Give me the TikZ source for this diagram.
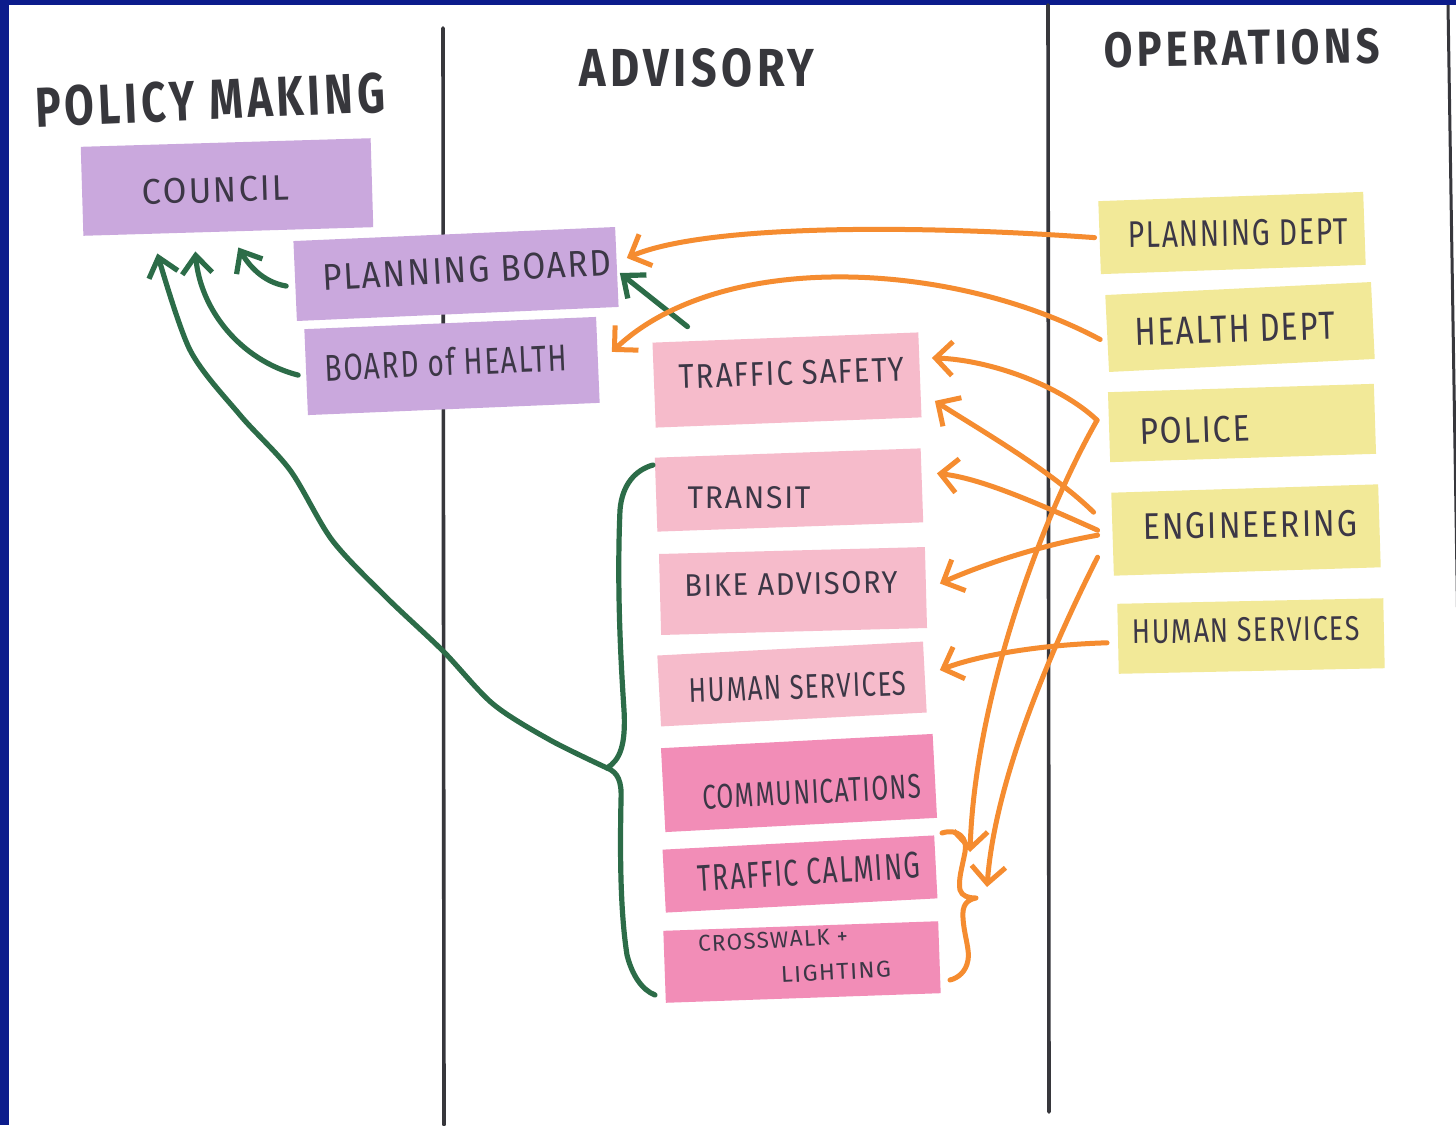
\documentclass[tikz,border=0pt]{standalone}
\usepackage{fontspec}
\usepackage{graphicx}
\usetikzlibrary{arrows.meta}
\newfontfamily\notefont{Fira Sans}[LetterSpace=6]
\newfontfamily\headfont{Fira Sans}[LetterSpace=10]
% hand-lettered labels, scaled to a given width and cap height
\newcommand\notelabel[3]{\resizebox{#1pt}{#2pt}{\notefont #3}}
\newcommand\headlabel[3]{\resizebox{#1pt}{#2pt}{\headfont\bfseries #3}}
\definecolor{frameblue}{RGB}{12,28,140}
\definecolor{lilac}{RGB}{202,168,221}
\definecolor{blush}{RGB}{246,187,203}
\definecolor{rose}{RGB}{242,141,183}
\definecolor{butter}{RGB}{242,233,152}
\definecolor{marker}{RGB}{245,140,48}
\definecolor{ivy}{RGB}{44,108,72}
\definecolor{ink}{RGB}{55,55,60}
\definecolor{pencil}{RGB}{60,55,70}
\begin{document}
\begin{tikzpicture}[x=1pt,y=-1pt,
  sticky/.style={inner sep=0pt,outer sep=0pt,draw=none},
  txt/.style={inner sep=0pt,outer sep=0pt,text=pencil},
  headtxt/.style={inner sep=0pt,outer sep=0pt,text=ink},
  divider/.style={draw=ink,line width=3.6pt,line cap=round},
  orangearrow/.style={draw=marker,line width=5pt,line cap=round,line join=round,
    -{Straight Barb[length=17pt,width=34pt]}},
  orangeline/.style={draw=marker,line width=5pt,line cap=round,line join=round},
  greenarrow/.style={draw=ivy,line width=5.2pt,line cap=round,line join=round,
    -{Straight Barb[length=18pt,width=30pt]}},
  greenline/.style={draw=ivy,line width=5.2pt,line cap=round,line join=round}]

\useasboundingbox (0,0) rectangle (1456,1125);
% paper and frame
\fill[white] (0,0) rectangle (1456,1125);
\fill[frameblue] (0,0) rectangle (1456,5);
\fill[frameblue] (0,0) rectangle (9,1125);
\draw[draw=ink,line width=3pt] (1448,5) -- (1458,640);

% column dividers
\draw[divider] (443,28) -- (444,1125);
\draw[divider] (1048,5) -- (1049,1112);

% column headings
\node[headtxt,rotate=2.5] (phead) at (210,100) {\headlabel{350}{40}{POLICY MAKING}};
\node[headtxt] (ahead) at (697,68) {\headlabel{235}{38}{ADVISORY}};
\node[headtxt,rotate=1] (ohead) at (1242,48) {\headlabel{275}{35}{OPERATIONS}};

% policy making notes
\node[sticky,fill=lilac,minimum width=290pt,minimum height=89pt,rotate=1.7] (council) at (227,187) {};
\node[sticky,fill=lilac,minimum width=322pt,minimum height=80pt,rotate=2.5] (pboard) at (456,274) {};
\node[sticky,fill=lilac,minimum width=292pt,minimum height=86pt,rotate=2.4] (boh) at (452,366) {};

% advisory notes
\node[sticky,fill=blush,minimum width=266pt,minimum height=85pt,rotate=2.2] (tsafety) at (787,380) {};
\node[sticky,fill=blush,minimum width=266pt,minimum height=74pt,rotate=2] (transit) at (789,490) {};
\node[sticky,fill=blush,minimum width=266pt,minimum height=81pt,rotate=1.5] (bike) at (793,591) {};
\node[sticky,fill=blush,minimum width=266pt,minimum height=71pt,rotate=3] (hsadv) at (792,684) {};
\node[sticky,fill=rose,minimum width=272pt,minimum height=84pt,rotate=3] (comm) at (799,783) {};
\node[sticky,fill=rose,minimum width=272pt,minimum height=63pt,rotate=3] (tcalm) at (800,874) {};
\node[sticky,fill=rose,minimum width=275pt,minimum height=72pt,rotate=2] (cross) at (802,962) {};

% operations notes
\node[sticky,fill=butter,minimum width=265pt,minimum height=73pt,rotate=2] (pdept) at (1232,233) {};
\node[sticky,fill=butter,minimum width=266pt,minimum height=77pt,rotate=2.8] (hdept) at (1240,327) {};
\node[sticky,fill=butter,minimum width=266pt,minimum height=70pt,rotate=1.8] (police) at (1242,423) {};
\node[sticky,fill=butter,minimum width=267pt,minimum height=83pt,rotate=1.8] (eng) at (1246,530) {};
\node[sticky,fill=butter,minimum width=266pt,minimum height=70pt,rotate=1.2] (hsops) at (1251,636) {};

% note labels
\node[txt,rotate=1.7] (councilT) at (216,190) {\notelabel{147}{25}{COUNCIL}};
\node[txt,rotate=3] (pboardT) at (467,270) {\notelabel{289}{26}{PLANNING BOARD}};
\node[txt,rotate=2.5] (bohT) at (446,362) {\notelabel{242}{28}{BOARD of HEALTH}};
\node[txt,rotate=2] (tsafetyT) at (792,373) {\notelabel{225}{24}{TRAFFIC SAFETY}};
\node[txt] (transitT) at (749,498) {\notelabel{123}{22}{TRANSIT}};
\node[txt,rotate=1] (bikeT) at (791,584) {\notelabel{213}{22}{BIKE ADVISORY}};
\node[txt,rotate=2] (hsadvT) at (798,687) {\notelabel{217}{24}{HUMAN SERVICES}};
\node[txt,rotate=3] (commT) at (812,792) {\notelabel{219}{24}{COMMUNICATIONS}};
\node[txt,rotate=3.5] (tcalmT) at (809,872) {\notelabel{222}{26}{TRAFFIC CALMING}};
\node[txt,rotate=3] (crossT) at (773,940) {\notelabel{150}{16}{CROSSWALK +}};
\node[txt,rotate=3] (lightT) at (836,972) {\notelabel{110}{16}{LIGHTING}};
\node[txt,rotate=1] (pdeptT) at (1238,233) {\notelabel{220}{26}{PLANNING DEPT}};
\node[txt,rotate=2] (hdeptT) at (1235,329) {\notelabel{200}{27}{HEALTH DEPT}};
\node[txt,rotate=2] (policeT) at (1195,430) {\notelabel{110}{26}{POLICE}};
\node[txt,rotate=1] (engT) at (1250,525) {\notelabel{214}{26}{ENGINEERING}};
\node[txt,rotate=1] (hsopsT) at (1246,630) {\notelabel{227}{24}{HUMAN SERVICES}};

% ---- green: advisory and boards report up to the council ----
\coordinate (ctipA) at ([shift={(10,16)}]council.south);
\coordinate (ctipB) at ([shift={(-33,20)}]council.south);
\coordinate (ctipC) at ([shift={(-71,22)}]council.south);
\coordinate (gtip) at (607,768);

\draw[greenarrow] ([shift={(-9,5)}]pboard.west)
  .. controls +(-24,-4) and +(10,17) .. (ctipA);
\draw[greenarrow] ([shift={(-8,3)}]boh.west)
  .. controls +(-58,-15) and +(5,58) .. (ctipB);
\draw[greenarrow] plot[smooth,tension=0.5] coordinates
  {(gtip) (550,740) (493,704) (443,651) (386,597) (332,540) (290,470) (240,415) (190,350) (ctipC)};
\draw[greenarrow] ([shift={(35,-16)}]tsafety.north west) -- ([shift={(3,6)}]pboard.east);

% green brace grouping the advisory committees
\draw[greenline] (653,465) .. controls (635,470) and (622,485) .. (620,510)
  .. controls (617,580) and (620,650) .. (624,710)
  .. controls (626,745) and (620,760) .. (gtip)
  .. controls (618,772) and (622,782) .. (621,800)
  .. controls (620,850) and (620,910) .. (627,955)
  .. controls (632,975) and (642,990) .. (655,995);

% ---- orange: departments staff the boards and committees ----
\coordinate (polc) at ([shift={(-12,-7)}]police.west);
\coordinate (obraceA) at (970,852);
\coordinate (obraceB) at (987,887);

\draw[orangearrow] ([xshift=-5pt]pdept.west)
  .. controls +(-195,-14) and +(75,-32) .. ([shift={(10,-9)}]pboard.east);
\draw[orangearrow] ([shift={(-7,6)}]hdept.west)
  .. controls +(-150,-80) and +(108,-102) .. ([shift={(14,-8)}]boh.east);
\draw[orangearrow] (polc)
  .. controls +(-37,-35) and +(58,2) .. ([shift={(12,-17)}]tsafety.east);
\draw[orangearrow] (polc)
  .. controls +(-57,100) and +(5,-152) .. (obraceA);
\draw[orangearrow] ([shift={(-19,-22)}]eng.west)
  .. controls +(-43,-42) and +(45,29) .. ([shift={(15,26)}]tsafety.east);
\draw[orangearrow] ([shift={(-15,-4)}]eng.west)
  .. controls +(-67,-30) and +(43,5) .. ([shift={(15,-12)}]transit.east);
\draw[orangearrow] ([shift={(-15,1)}]eng.west)
  .. controls +(-57,10) and +(40,-18) .. ([shift={(14,-4)}]bike.east);
\draw[orangearrow] ([shift={(-15,23)}]eng.west)
  .. controls +(-47,93) and +(8,-107) .. (obraceB);
\draw[orangearrow] ([shift={(-11,4)}]hsops.west)
  .. controls +(-67,2) and +(40,-15) .. ([shift={(15,-7)}]hsadv.east);

% orange brace round traffic calming and crosswalk + lighting
\draw[orangeline] (942,833) .. controls (958,828) and (968,838) .. (965,852)
  .. controls (962,868) and (958,880) .. (960,890)
  .. controls (962,896) and (968,898) .. (976,898)
  .. controls (966,900) and (962,906) .. (963,918)
  .. controls (964,935) and (970,950) .. (968,960)
  .. controls (966,972) and (958,978) .. (950,980);
\end{tikzpicture}
\end{document}
